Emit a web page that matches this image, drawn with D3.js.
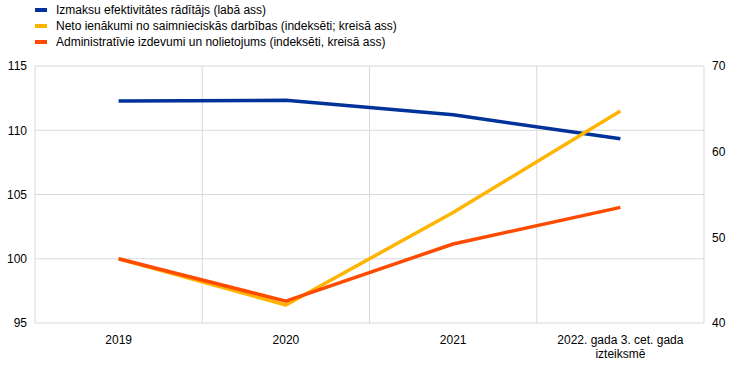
<!DOCTYPE html>
<html><head><meta charset="utf-8">
<script src="https://cdn.jsdelivr.net/npm/d3@7"></script>
<style>body{margin:0;background:#fff}svg{display:block;font-family:"Liberation Sans",Arial,sans-serif}</style>
</head><body><svg id="c" width="743" height="366"></svg>
<script>
const categories = ["2019", "2020", "2021", "2022. gada 3. cet. gada|izteiksmē"];
const costEfficiency = [65.9, 66.0, 64.3, 61.5];
const netIncome = [100, 96.4, 103.6, 111.5];
const adminExpenses = [100, 96.7, 101.15, 104.0];
const leftTicks = [95, 100, 105, 110, 115];
const rightTicks = [40, 50, 60, 70];
const seriesNames = ["Izmaksu efektivitātes rādītājs (labā ass)", "Neto ienākumi no saimnieciskās darbības (indeksēti; kreisā ass)", "Administratīvie izdevumi un nolietojums (indeksēti, kreisā ass)"];
const colors = ["#003299", "#ffb400", "#ff4b00"];

const svg = d3.select("#c");
const L = 35, R = 704, T = 66, B = 323;
const x = d3.scaleBand().domain(categories).range([L, R]);
const yL = d3.scaleLinear().domain([95, 115]).range([B, T]);
const yR = d3.scaleLinear().domain([40, 70]).range([B, T]);
const grid = "#d9d9d9";

// horizontal gridlines
svg.append("g").selectAll("line").data(leftTicks).join("line")
  .attr("x1", L).attr("x2", R).attr("y1", d => yL(d)).attr("y2", d => yL(d))
  .attr("stroke", grid).attr("stroke-width", 1);
// vertical gridlines (band boundaries)
const bounds = categories.map(c => x(c)).concat([R]);
svg.append("g").selectAll("line").data(bounds).join("line")
  .attr("x1", d => d).attr("x2", d => d).attr("y1", T).attr("y2", B)
  .attr("stroke", grid).attr("stroke-width", 1);

// left axis
const axL = svg.append("g").attr("transform", `translate(${L},0)`)
  .call(d3.axisLeft(yL).tickValues(leftTicks).tickSize(0).tickPadding(8));
axL.select(".domain").remove();
axL.selectAll("text").attr("font-size", 12).attr("fill", "#000").attr("font-family", "Liberation Sans, Arial, sans-serif");
// right axis
const axR = svg.append("g").attr("transform", `translate(${R},0)`)
  .call(d3.axisRight(yR).tickValues(rightTicks).tickSize(0).tickPadding(8));
axR.select(".domain").remove();
axR.selectAll("text").attr("font-size", 12).attr("fill", "#000").attr("font-family", "Liberation Sans, Arial, sans-serif");
// bottom axis
const axB = svg.append("g").attr("transform", `translate(0,${B})`)
  .call(d3.axisBottom(x).tickSize(0).tickPadding(12).tickFormat(""));
axB.select(".domain").remove();
axB.selectAll(".tick").each(function(d){
  const parts = d.split("|");
  const t = d3.select(this).select("text").attr("font-size", 12).attr("fill", "#000")
    .attr("font-family", "Liberation Sans, Arial, sans-serif").attr("y", 12);
  parts.forEach((p, i) => t.append("tspan").attr("x", 0).attr("dy", i === 0 ? "0.71em" : "1.2em").text(p));
});

const cx = c => x(c) + x.bandwidth() / 2;
const lineL = d3.line().x((d, i) => cx(categories[i])).y(d => yL(d));
const lineR = d3.line().x((d, i) => cx(categories[i])).y(d => yR(d));

svg.append("path").datum(costEfficiency).attr("d", lineR).attr("fill", "none")
  .attr("stroke", colors[0]).attr("stroke-width", 3.5).attr("stroke-linejoin", "round");
svg.append("path").datum(netIncome).attr("d", lineL).attr("fill", "none")
  .attr("stroke", colors[1]).attr("stroke-width", 3.5).attr("stroke-linejoin", "round");
svg.append("path").datum(adminExpenses).attr("d", lineL).attr("fill", "none")
  .attr("stroke", colors[2]).attr("stroke-width", 3.5).attr("stroke-linejoin", "round");

// legend
const lg = svg.append("g");
seriesNames.forEach((n, i) => {
  const yy = 10 + i * 16;
  lg.append("line").attr("x1", 35).attr("x2", 47).attr("y1", yy).attr("y2", yy)
    .attr("stroke", colors[i]).attr("stroke-width", 4);
  lg.append("text").attr("x", 56).attr("y", yy).attr("dy", "0.35em")
    .attr("font-size", 12).attr("fill", "#000").text(n);
});
</script></body></html>
